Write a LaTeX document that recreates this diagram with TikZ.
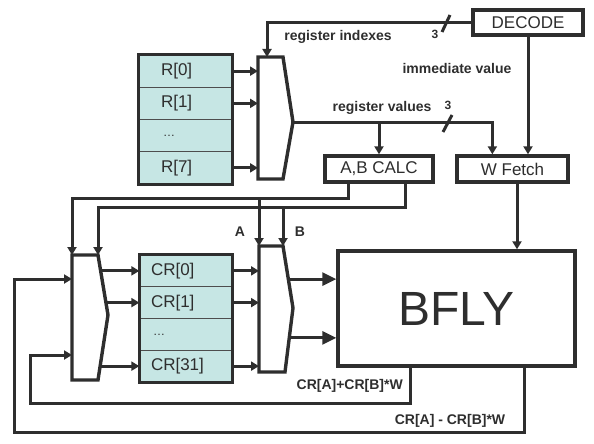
\documentclass[tikz,border=0pt]{standalone}
\usepackage{fontspec}
\setmainfont{Liberation Sans}
\usetikzlibrary{arrows.meta,calc}
\definecolor{ln}{HTML}{2E2E2E}
\definecolor{regfill}{RGB}{198,230,228}
\begin{document}
\begin{tikzpicture}[x=1pt,y=-1pt,
  wire/.style={draw=ln,line width=3pt},
  arr/.style={wire,-{Triangle[length=8pt,width=9pt]}},
  bigarr/.style={wire,-{Triangle[length=14pt,width=13pt]}},
  blk/.style={draw=ln,line width=3.4pt,fill=white,inner sep=0pt,text=ln,font=\fontsize{17}{17}\selectfont},
  rrow/.style={draw=ln!85,line width=1.3pt,fill=regfill,inner ysep=0pt,inner xsep=22pt,text width=49pt,align=left,minimum height=32.25pt,text=ln,font=\fontsize{17}{17}\selectfont},
  crrow/.style={draw=ln!85,line width=1.3pt,fill=regfill,inner ysep=0pt,inner xsep=11pt,text width=70pt,align=left,minimum height=31.75pt,text=ln,font=\fontsize{17}{17}\selectfont},
  frame/.style={draw=ln,line width=3.4pt},
  lbl/.style={text=ln,font=\bfseries\fontsize{14}{14}\selectfont,inner sep=0pt},
  num/.style={text=ln,font=\bfseries\fontsize{12}{12}\selectfont,inner sep=0pt},
  mux/.style={draw=ln,line width=3.4pt,fill=white,line join=miter},
]
\useasboundingbox (0,0) rectangle (594,444);

% ---------- blocks ----------
\node[blk,minimum width=110pt,minimum height=25pt] (DEC) at (528,22.5) {DECODE};
\node[blk,minimum width=111pt,minimum height=26pt] (WF) at (512.5,169) {W Fetch};
\node[blk,minimum width=108pt,minimum height=26pt] (ABC) at (379,169) {A,B CALC};
\node[blk,minimum width=237pt,minimum height=115pt,font=\fontsize{48}{48}\selectfont] (BF) at (456.5,308.5) {BFLY};

% register file R
\node[rrow] (R0) at (185.5,71.125) {R[0]};
\node[rrow] (R1) at (185.5,103.375) {R[1]};
\node[rrow] (R2) at (185.5,135.625) {\raisebox{-1pt}{\fontsize{12}{12}\selectfont\,\dots}};
\node[rrow] (R7) at (185.5,167.875) {R[7]};
\draw[frame] (R0.north west) rectangle (R7.south east);

% register file CR
\node[crrow] (CR0) at (186,270.875) {CR[0]};
\node[crrow] (CR1) at (186,302.625) {CR[1]};
\node[crrow] (CR2) at (186,334.375) {\raisebox{-1pt}{\fontsize{12}{12}\selectfont\,\dots}};
\node[crrow] (CR31) at (186,366.125) {CR[31]};
\draw[frame] (CR0.north west) rectangle (CR31.south east);

% ---------- mux corner coordinates ----------
\coordinate (m1a) at (258,57);  \coordinate (m1b) at (283,57);
\coordinate (m1t) at (293,122); \coordinate (m1c) at (283,179); \coordinate (m1d) at (258,179);
\coordinate (m1in) at (267,57);
\coordinate (m2a) at (72,255);  \coordinate (m2b) at (98,255);
\coordinate (m2t) at (108,315); \coordinate (m2c) at (98,380);  \coordinate (m2d) at (72,380);
\coordinate (m2in1) at (72,279); \coordinate (m2in2) at (72,355);
\coordinate (m3a) at (259,246); \coordinate (m3b) at (283,246);
\coordinate (m3t) at (293,308); \coordinate (m3c) at (285,372); \coordinate (m3d) at (259,372);

% bus helper coordinates
\coordinate (busA) at (72,198);
\coordinate (busB) at (98,207);
\coordinate (fb1) at (30,403);
\coordinate (fb2) at (14,432);
\coordinate (abcA) at ($(ABC.south west)!0.23!(ABC.south east)$);
\coordinate (abcB) at ($(ABC.south west)!0.74!(ABC.south east)$);
\coordinate (wfin) at ($(WF.north west)!0.324!(WF.north east)$);
\coordinate (bfin1) at ($(BF.north west)!0.252!(BF.south west)$);
\coordinate (bfin2) at ($(BF.north west)!0.748!(BF.south west)$);
\coordinate (bfo1) at ($(BF.south west)!0.308!(BF.south east)$);
\coordinate (bfo2) at ($(BF.south west)!0.781!(BF.south east)$);
\coordinate (wfo) at ($(WF.south)+(4.5,0)$);

% ---------- wires ----------
\draw[arr] (DEC.west) -| (m1in);
\draw[wire] (442,32) -- (450,15);
\draw[arr] (DEC.south) -- (DEC.south |- WF.north);
\draw[arr] (m1t) -| (wfin);
\draw[wire] (443,132) -- (452,115);
\draw[arr] (ABC.north |- m1t) -- (ABC.north);
\draw[arr] (wfo) -- (wfo |- BF.north);

\draw[arr] (R0.east) -- (R0.east -| m1a);
\draw[arr] (R1.east) -- (R1.east -| m1a);
\draw[arr] (R7.east) -- (R7.east -| m1a);

\draw[arr] (abcA) |- (busA) -- (m2a);
\draw[arr] (abcB) |- (busB) -- (m2b);
\draw[arr] (m3a |- busA) -- (m3a);
\draw[arr] (m3b |- busB) -- (m3b);

\draw[arr] (CR0.west -| m2b) -- (CR0.west);
\draw[arr] (CR1.west -| m2b) -- (CR1.west);
\draw[arr] (CR31.west -| m2b) -- (CR31.west);

\draw[arr] (CR0.east) -- (CR0.east -| m3a);
\draw[arr] (CR1.east) -- (CR1.east -| m3a);
\draw[arr] (CR31.east) -- (CR31.east -| m3a);

\draw[bigarr] (bfin1 -| m3b) -- (bfin1);
\draw[bigarr] (bfin2 -| m3b) -- (bfin2);

\draw[arr] (bfo1) |- (fb1) |- (m2in2);
\draw[arr] (bfo2) |- (fb2) |- (m2in1);

% ---------- muxes ----------
\draw[mux] (m1a) -- (m1b) -- (m1t) -- (m1c) -- (m1d) -- cycle;
\draw[mux] (m2a) -- (m2b) -- (m2t) -- (m2c) -- (m2d) -- cycle;
\draw[mux] (m3a) -- (m3b) -- (m3t) -- (m3c) -- (m3d) -- cycle;

% ---------- labels ----------
\node[lbl] (lri) at (338,37) {register indexes};
\node[num] (n1) at (435,34) {3};
\node[lbl] (liv) at (457,68) {immediate value};
\node[lbl] (lrv) at (382,108) {register values};
\node[num] (n2) at (448,105) {3};
\node[lbl] (lA) at (240,232) {A};
\node[lbl] (lB) at (300,232) {B};
\node[lbl,anchor=east] (lsum) at (403,386) {CR[A]+CR[B]*W};
\node[lbl] (ldiff) at (450,421) {CR[A] - CR[B]*W};
\end{tikzpicture}
\end{document}
